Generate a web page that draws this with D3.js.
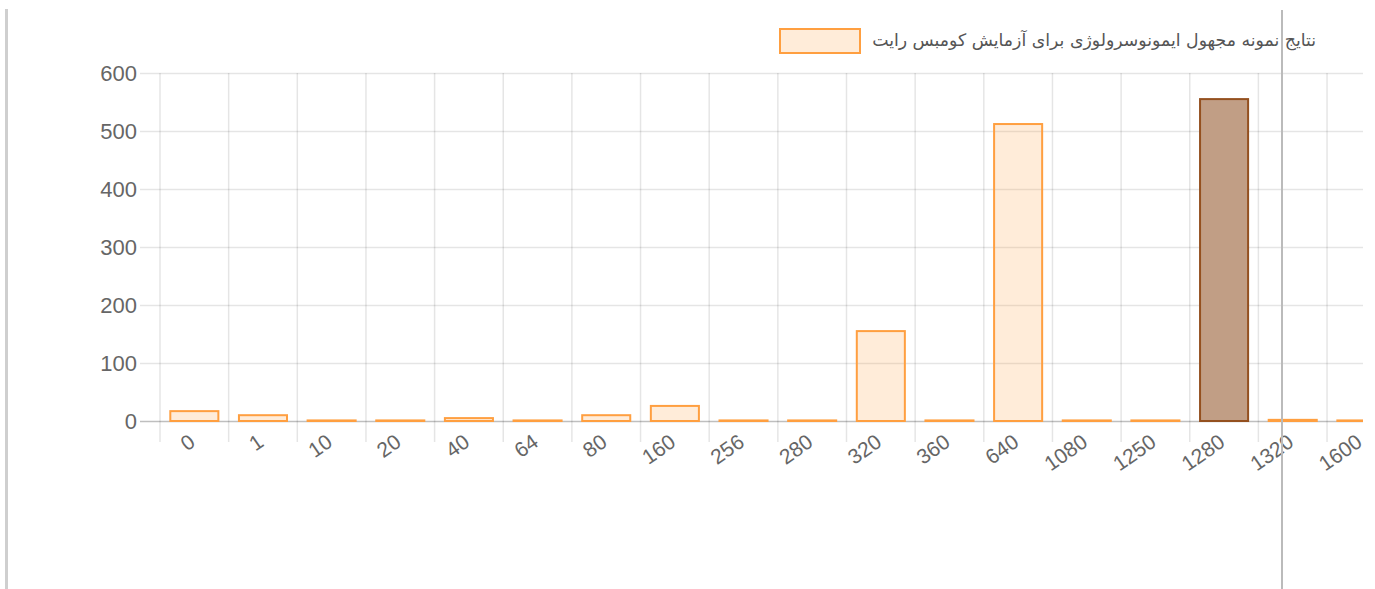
<!DOCTYPE html>
<html>
<head>
<meta charset="utf-8">
<script src="https://cdn.jsdelivr.net/npm/d3@7"></script>
<style>
  html, body { margin: 0; padding: 0; background: #fff; }
  svg { display: block; }
</style>
</head>
<body>
<svg id="chart" width="1375" height="589"></svg>
<script>
const categories = ["0", "1", "10", "20", "40", "64", "80", "160", "256", "280",
  "320", "360", "640", "1080", "1250", "1280", "1320", "1600"];
const counts = [17, 10, 1, 1, 5, 1, 10, 26, 1, 1, 155, 1, 512, 1, 1, 555, 2, 1];
const yTicks = [0, 100, 200, 300, 400, 500, 600];
const highlighted = "1280";
const legendLabel = "نتایج نمونه مجهول ایمونوسرولوژی برای آزمایش کومبس رایت";

const svg = d3.select("#chart");

const plot = { left: 160, top: 73, bottom: 421, right: 1363, step: 68.65 };

// page frame lines
svg.append("line").attr("x1", 6.5).attr("x2", 6.5).attr("y1", 9).attr("y2", 589)
  .attr("stroke", "#cfcfcf").attr("stroke-width", 3);

svg.append("clipPath").attr("id", "clip")
  .append("rect").attr("x", 0).attr("y", 0).attr("width", plot.right).attr("height", 589);

const g = svg.append("g").attr("clip-path", "url(#clip)");

const x = d3.scaleBand()
  .domain(categories)
  .range([plot.left, plot.left + categories.length * plot.step])
  .paddingInner(0).paddingOuter(0);

const y = d3.scaleLinear().domain([0, 600]).range([plot.bottom, plot.top]);

// horizontal grid + y labels
const yAxis = g.append("g")
  .attr("transform", `translate(${plot.right},0)`)
  .call(d3.axisLeft(y).tickValues(yTicks).tickSize(plot.right - 140).tickPadding(3));
yAxis.select(".domain").remove();
yAxis.selectAll(".tick line")
  .attr("stroke", (d) => d === 0 ? "rgba(0,0,0,0.25)" : "rgba(0,0,0,0.1)")
  .attr("stroke-width", 1.5);
yAxis.selectAll(".tick text")
  .attr("fill", "#666")
  .style("font-family", "'Liberation Sans', Arial, sans-serif")
  .style("font-size", "22px");

// vertical grid at category edges
const edges = categories.map((c) => x(c)).concat([x(categories[categories.length - 1]) + x.step()]);
g.append("g").selectAll("line")
  .data(edges)
  .join("line")
  .attr("x1", (d) => d).attr("x2", (d) => d)
  .attr("y1", plot.top).attr("y2", plot.bottom + 21)
  .attr("stroke", "rgba(0,0,0,0.1)")
  .attr("stroke-width", 1.5);

// bars
const barW = x.bandwidth() * 0.7;
g.append("g").selectAll("rect")
  .data(categories.map((c, i) => ({ c, v: counts[i] })))
  .join("rect")
  .attr("x", (d) => x(d.c) + (x.bandwidth() - barW) / 2)
  .attr("y", (d) => y(d.v))
  .attr("width", barW)
  .attr("height", (d) => y(0) - y(d.v))
  .attr("fill", (d) => d.c === highlighted ? "#c19e85" : "rgba(255,159,64,0.2)")
  .attr("stroke", (d) => d.c === highlighted ? "#94501f" : "rgb(255,159,64)")
  .attr("stroke-width", 2);

// x labels
const xAxis = g.append("g")
  .attr("transform", `translate(0,${plot.bottom})`)
  .call(d3.axisBottom(x).tickSize(0).tickPadding(0));
xAxis.select(".domain").remove();
xAxis.selectAll(".tick text")
  .attr("fill", "#666")
  .style("font-family", "'Liberation Sans', Arial, sans-serif")
  .style("font-size", "21px")
  .attr("text-anchor", "end")
  .attr("dy", "0.35em")
  .attr("y", 0)
  .attr("transform", "translate(-2,18) rotate(-35)");

// legend
const legend = svg.append("g");
legend.append("rect")
  .attr("x", 780).attr("y", 29).attr("width", 80).attr("height", 24)
  .attr("fill", "rgba(255,159,64,0.2)")
  .attr("stroke", "rgb(255,159,64)")
  .attr("stroke-width", 2);
legend.append("text")
  .attr("x", 1316).attr("y", 41)
  .attr("text-anchor", "end")
  .attr("dominant-baseline", "middle")
  .attr("fill", "#555")
  .style("font-family", "'DejaVu Sans', sans-serif")
  .style("font-size", "17.3px")
  .text(legendLabel);

// right page line
svg.append("line").attr("x1", 1282).attr("x2", 1282).attr("y1", 10).attr("y2", 589)
  .attr("stroke", "#bbb").attr("stroke-width", 2);
</script>
</body>
</html>
